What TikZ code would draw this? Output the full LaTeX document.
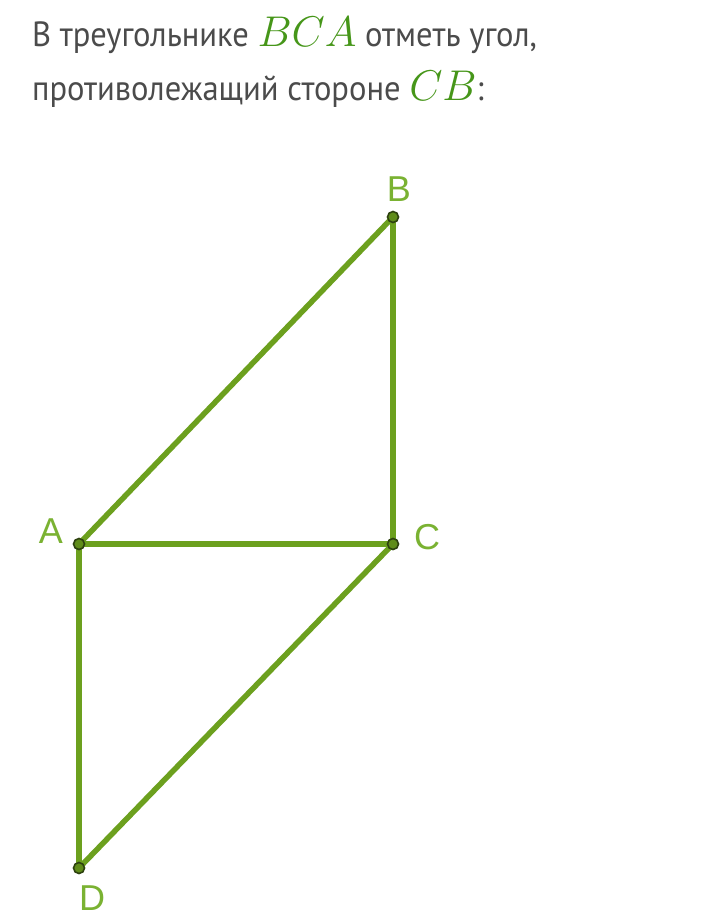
\RequirePackage{fix-cm}
\documentclass[tikz,border=0pt]{standalone}
\usepackage{fontspec}
\setmainfont{PT Sans}[FakeStretch=0.93]
\newfontfamily\labfont{Liberation Sans}
\definecolor{edgegreen}{RGB}{108,160,30}
\definecolor{labgreen}{RGB}{122,178,50}
\definecolor{mathgreen}{RGB}{70,150,25}
\definecolor{ptfill}{RGB}{95,140,25}
\definecolor{ptdraw}{RGB}{45,65,15}
\definecolor{txtgray}{RGB}{75,75,75}
\newcommand{\mgreen}[1]{\textcolor{mathgreen}{\fontsize{43}{43}\selectfont$#1$}}
\begin{document}
\begin{tikzpicture}[x=1pt,y=-1pt,
  edge/.style={draw=edgegreen,line width=5.5pt},
  pt/.style={circle,fill=ptfill,draw=ptdraw,line width=1.6pt,inner sep=0pt,minimum size=11pt},
  lab/.style={text=labgreen,font=\labfont\fontsize{36}{36}\selectfont,inner sep=0pt},
  txt/.style={text=txtgray,font=\fontsize{35}{40}\selectfont,inner sep=0pt,anchor=base west}]
\useasboundingbox[fill=white] (0,0) rectangle (720,921);
\node[txt] (t1) at (32,46) {В треугольнике \mgreen{BCA} отметь угол,};
\node[txt] (t2) at (32,100) {противолежащий стороне \mgreen{CB}:};
\coordinate (A) at (79,544);
\coordinate (B) at (393,217);
\coordinate (C) at (393,544);
\coordinate (D) at (79,868);
\draw[edge] (A) -- (B);
\draw[edge] (B) -- (C);
\draw[edge] (A) -- (C);
\draw[edge] (C) -- (D);
\draw[edge] (A) -- (D);
\node[pt] (pA) at (A) {};
\node[pt] (pB) at (B) {};
\node[pt] (pC) at (C) {};
\node[pt] (pD) at (D) {};
\node[lab] (lA) at (51,531) {A};
\node[lab] (lB) at (399,189) {B};
\node[lab] (lC) at (427,537) {C};
\node[lab] (lD) at (92,898) {D};
\end{tikzpicture}
\end{document}
